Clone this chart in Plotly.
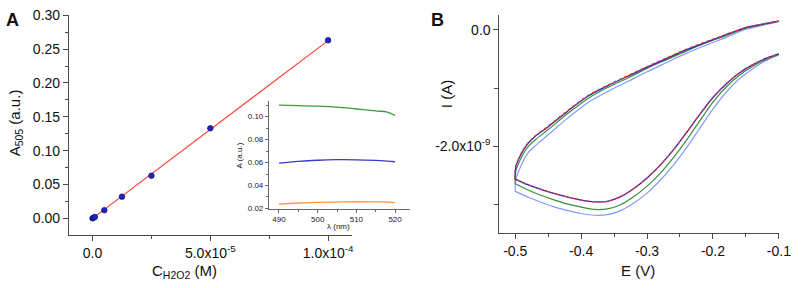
import plotly.graph_objects as go

W, H = 803, 288

# ---------------- Panel A data ----------------
conc_M = [0, 5e-7, 1e-6, 5e-6, 1.25e-5, 2.5e-5, 5e-5, 1e-4]
abs_505 = [0.000, 0.001, 0.002, 0.012, 0.032, 0.063, 0.133, 0.263]
fit_x = [0, 1e-4]
fit_y = [0.0, 0.2625]
a_xtick_vals = [0, 5e-5, 1e-4]
a_xtick_text = ["0.0", "5.0x10<sup>-5</sup>", "1.0x10<sup>-4</sup>"]
a_ytick_vals = [0.0, 0.05, 0.10, 0.15, 0.20, 0.25, 0.30]
a_ytick_text = ["0.00", "0.05", "0.10", "0.15", "0.20", "0.25", "0.30"]

# inset spectra
wl_nm = [490, 495, 500, 505, 510, 515, 518, 520]
spec_green = [0.1100, 0.1097, 0.1092, 0.1083, 0.1067, 0.1050, 0.1040, 0.1010]
spec_blue = [0.0595, 0.0610, 0.0620, 0.0625, 0.0624, 0.0618, 0.0612, 0.0607]
spec_orange = [0.0238, 0.0247, 0.0253, 0.0256, 0.0258, 0.0257, 0.0256, 0.0250]

# ---------------- Panel B data (I in nA) ----------------
E_upper = [-0.10, -0.12, -0.15, -0.18, -0.21, -0.24, -0.27, -0.30, -0.33,
           -0.36, -0.39, -0.42, -0.45, -0.47, -0.48, -0.487, -0.492, -0.496,
           -0.499, -0.50, -0.50]
E_lower = [-0.50, -0.48, -0.46, -0.44, -0.42, -0.40, -0.38, -0.36, -0.34, -0.32,
           -0.30, -0.28, -0.26, -0.24, -0.22, -0.20, -0.18, -0.16, -0.14, -0.12, -0.10]

red_up = [0.15, 0.11, 0.04, -0.08, -0.20, -0.33, -0.48, -0.63, -0.79,
          -0.95, -1.13, -1.38, -1.65, -1.82, -1.93, -2.04, -2.14, -2.24,
          -2.33, -2.42, -2.56]
red_lo = [-2.56, -2.66, -2.74, -2.81, -2.87, -2.92, -2.95, -2.94, -2.86, -2.72,
          -2.54, -2.32, -2.06, -1.76, -1.45, -1.16, -0.93, -0.74, -0.60, -0.49, -0.41]
navy_up = [0.15, 0.11, 0.04, -0.08, -0.21, -0.34, -0.49, -0.64, -0.80,
           -0.96, -1.14, -1.39, -1.66, -1.83, -1.94, -2.05, -2.15, -2.25,
           -2.34, -2.43, -2.56]
navy_lo = [-2.56, -2.66, -2.74, -2.81, -2.87, -2.92, -2.95, -2.94, -2.86, -2.72,
           -2.54, -2.32, -2.06, -1.76, -1.45, -1.16, -0.93, -0.74, -0.60, -0.49, -0.41]
green_up = [0.15, 0.10, 0.03, -0.10, -0.22, -0.36, -0.51, -0.66, -0.83,
            -0.99, -1.18, -1.43, -1.71, -1.89, -2.00, -2.11, -2.22, -2.32,
            -2.42, -2.52, -2.64]
green_lo = [-2.64, -2.75, -2.84, -2.92, -2.99, -3.04, -3.08, -3.07, -3.00, -2.86,
            -2.68, -2.46, -2.19, -1.89, -1.56, -1.24, -0.98, -0.78, -0.63, -0.51, -0.42]
lblue_up = [0.14, 0.09, 0.01, -0.13, -0.26, -0.40, -0.56, -0.72, -0.89,
            -1.06, -1.25, -1.51, -1.80, -1.99, -2.10, -2.23, -2.35, -2.46,
            -2.56, -2.66, -2.77]
lblue_lo = [-2.77, -2.87, -2.96, -3.04, -3.10, -3.15, -3.18, -3.17, -3.10, -2.97,
            -2.80, -2.58, -2.32, -2.02, -1.69, -1.36, -1.07, -0.84, -0.67, -0.53, -0.43]
b_xtick_vals = [-0.5, -0.4, -0.3, -0.2, -0.1]
b_xtick_text = ["-0.5", "-0.4", "-0.3", "-0.2", "-0.1"]
b_ytick_vals = [0, -2e-9]
b_ytick_text = ["0.0", "-2.0x10<sup>-9</sup>"]

FONT = "Arial, Liberation Sans, sans-serif"
AX = "#4a4a4a"


def px(x):
    return x / W


def py(y):
    return 1 - y / H


fig = go.Figure()

# Panel A
fig.add_trace(go.Scatter(x=fit_x, y=fit_y, mode="lines",
                         line=dict(color="#ff3b30", width=1.1),
                         xaxis="x", yaxis="y", showlegend=False))
fig.add_trace(go.Scatter(x=conc_M, y=abs_505, mode="markers",
                         marker=dict(color="#2222cc", size=5.5,
                                     line=dict(color="#10106a", width=0.8)),
                         xaxis="x", yaxis="y", showlegend=False))

# Inset
for ys, c in [(spec_green, "#3d9a3d"), (spec_blue, "#3a3ac8"), (spec_orange, "#ff9a40")]:
    fig.add_trace(go.Scatter(x=wl_nm, y=ys, mode="lines",
                             line=dict(color=c, width=1.3, shape="spline"),
                             xaxis="x3", yaxis="y3", showlegend=False))

# Panel B
def loop(up, lo):
    return [v * 1e-9 for v in up + lo]

E_loop = E_upper + E_lower
for up, lo, c, w, d in [(lblue_up, lblue_lo, "#7f9cff", 1.2, "solid"),
                        (green_up, green_lo, "#3a8f3a", 1.2, "solid"),
                        (navy_up, navy_lo, "#2424c0", 1.3, "solid"),
                        (red_up, red_lo, "#ff2a2a", 1.3, "3px,3px")]:
    fig.add_trace(go.Scatter(x=E_loop, y=loop(up, lo), mode="lines",
                             line=dict(color=c, width=w, dash=d, shape="spline", smoothing=0.8),
                             xaxis="x2", yaxis="y2", showlegend=False))

common = dict(showgrid=False, zeroline=False, showline=True, linecolor=AX, linewidth=1.1,
              ticks="outside", tickcolor=AX, ticklen=5, tickwidth=1.1,
              ticklabeloverflow="allow",
              tickfont=dict(family=FONT, size=14, color="#111"))

inset_common = dict(showgrid=False, zeroline=False, showline=True, linecolor="#666",
                    linewidth=1, ticks="outside", tickcolor="#666", ticklen=3, tickwidth=1,
                    ticklabeloverflow="allow",
                    tickfont=dict(family=FONT, size=8, color="#222"))

fig.update_layout(
    width=W, height=H, margin=dict(l=0, r=0, t=0, b=0),
    paper_bgcolor="white", plot_bgcolor="rgba(0,0,0,0)",
    font=dict(family=FONT, color="#111"),
    xaxis=dict(domain=[px(70), px(357)], range=[-1.0e-5, 1.1e-4], anchor="y",
               tickmode="array", tickvals=a_xtick_vals, ticktext=a_xtick_text,
               minor=dict(tickmode="array", tickvals=[2.5e-5, 7.5e-5], ticks="outside",
                          ticklen=3, tickcolor=AX),
               **common),
    yaxis=dict(domain=[py(238), py(7)], range=[-0.025, 0.3008], anchor="x",
               tickmode="array", tickvals=a_ytick_vals, ticktext=a_ytick_text,
               minor=dict(tickmode="array", tickvals=[0.025, 0.075, 0.125, 0.175, 0.225, 0.275],
                          ticks="outside", ticklen=3, tickcolor=AX),
               **common),
    xaxis2=dict(domain=[px(507), px(791)], range=[-0.524, -0.0995], anchor="y2",
                tickmode="array", tickvals=b_xtick_vals, ticktext=b_xtick_text,
                minor=dict(tickmode="array", tickvals=[-0.45, -0.35, -0.25, -0.15],
                           ticks="outside", ticklen=3, tickcolor=AX),
                **common),
    yaxis2=dict(domain=[py(236), py(7)], range=[-3.49e-9, 0.26e-9], anchor="x2",
                tickmode="array", tickvals=b_ytick_vals, ticktext=b_ytick_text,
                minor=dict(tickmode="array", tickvals=[-1e-9, -3e-9], ticks="outside",
                           ticklen=4, tickcolor=AX),
                **common),
    xaxis3=dict(domain=[px(273), px(416)], range=[487.4, 523.8], anchor="y3",
                tickmode="array", tickvals=[490, 500, 510, 520],
                minor=dict(tickmode="array", tickvals=[495, 505, 515], ticks="outside",
                           ticklen=2, tickcolor="#666"),
                **inset_common),
    yaxis3=dict(domain=[py(210), py(97)], range=[0.0199, 0.114], anchor="x3",
                tickmode="array", tickvals=[0.02, 0.04, 0.06, 0.08, 0.10],
                ticktext=["0.02", "0.04", "0.06", "0.08", "0.10"],
                minor=dict(tickmode="array", tickvals=[0.03, 0.05, 0.07, 0.09, 0.11],
                           ticks="outside", ticklen=2, tickcolor="#666"),
                **inset_common),
)

ann = [
    dict(text="<b>A</b>", x=px(13), y=py(13), size=18),
    dict(text="<b>B</b>", x=px(444), y=py(13), size=18),
    dict(text="A<sub>505</sub> (a.u.)", x=px(16), y=py(120), size=15, angle=-90),
    dict(text="C<sub>H2O2</sub> (M)", x=px(187), y=py(276), size=15),
    dict(text="E (V)", x=px(648), y=py(275), size=15),
    dict(text="I (A)", x=px(454), y=py(90), size=15, angle=-90),
    dict(text="A (a.u.)", x=px(243), y=py(154), size=8, angle=-90),
    dict(text="λ (nm)", x=px(344), y=py(229), size=8),
]
for a in ann:
    fig.add_annotation(text=a["text"], x=a["x"], y=a["y"], xref="paper", yref="paper",
                       xanchor="center", yanchor="middle", showarrow=False,
                       textangle=a.get("angle", 0),
                       font=dict(family=FONT, size=a["size"], color="#111"))

fig.write_html("out.html", config={"displayModeBar": False},
               post_script="document.body.style.margin='0';document.body.style.padding='0';")
